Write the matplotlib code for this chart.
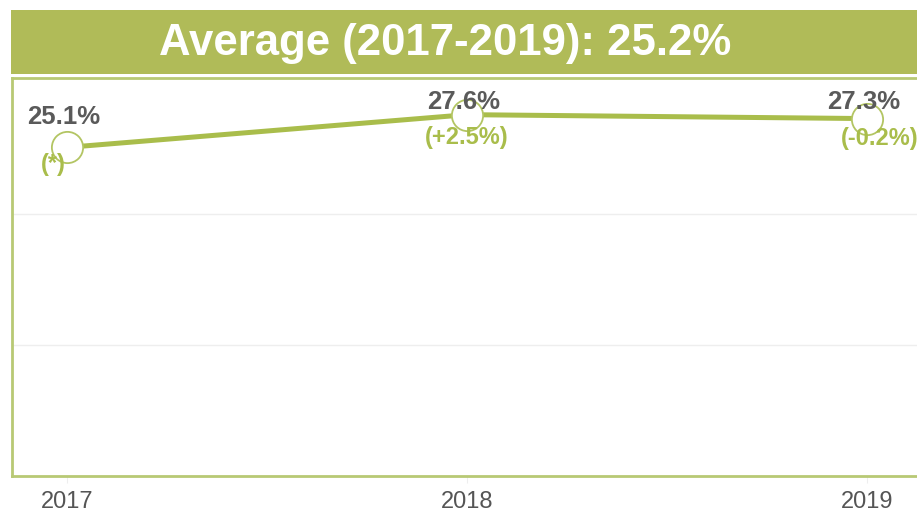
import matplotlib
matplotlib.use("Agg")
import matplotlib.pyplot as plt
from matplotlib.patches import Rectangle

years = [2017, 2018, 2019]
values = [25.1, 27.6, 27.3]
value_labels = ["25.1%", "27.6%", "27.3%"]
change_labels = ["(*)", "(+2.5%)", "(-0.2%)"]
title_text = "Average (2017-2019): 25.2%"
gridlines = [10, 20]

plt.rcParams['font.family'] = ['Liberation Sans', 'DejaVu Sans']

W, H = 917, 512
fig = plt.figure(figsize=(W / 100, H / 100), dpi=100)

green_band = "#B0BB58"
line_green = "#A9BD4B"
border_green = "#B8C974"
label_gray = "#5A5A5A"

# header band
fig.patches.append(Rectangle((11 / W, 1 - 74 / H), 1, 64 / H, transform=fig.transFigure,
                             facecolor=green_band, edgecolor="none", zorder=0))
fig.text(445 / W, 1 - 55 / H, title_text, color="white", fontsize=31.5, fontweight="bold",
         ha="center", va="baseline")

left, right, top, bottom = 12, 922, 78, 476
ax = fig.add_axes([left / W, 1 - bottom / H, (right - left) / W, (bottom - top) / H])
ax.set_xlim(2016.8625, 2019.1375)
ax.set_ylim(0, 30.4)
for s in ax.spines.values():
    s.set_color(border_green)
    s.set_linewidth(2)
for g in gridlines:
    ax.axhline(g, color="#EEEEEE", linewidth=1, zorder=0)

ax.plot(years, values, color=line_green, linewidth=3.6, zorder=2,
        marker="o", markersize=22.5, markerfacecolor="white", markeredgecolor="#B3C563",
        markeredgewidth=1.3, solid_capstyle="round")

val_offsets = [(-3, 23), (-3, 6), (-3, 10)]
chg_offsets = [(-14, -24), (0, -29), (13, -26)]
for x, y, vl, cl, vo, co in zip(years, values, value_labels, change_labels, val_offsets, chg_offsets):
    ax.annotate(vl, (x, y), xytext=vo, textcoords="offset pixels", ha="center", va="baseline",
                fontsize=18.5, fontweight="bold", color=label_gray, zorder=3)
    ax.annotate(cl, (x, y), xytext=co, textcoords="offset pixels", ha="center", va="baseline",
                fontsize=17, fontweight="bold", color=line_green, zorder=3)

ax.set_yticks([])
ax.set_xticks(years)
ax.set_xticklabels([str(y) for y in years], fontsize=17, color="#555555")
ax.tick_params(axis="x", length=5, color="#EEEEEE", pad=6)

fig.savefig("out.png", dpi=100)
